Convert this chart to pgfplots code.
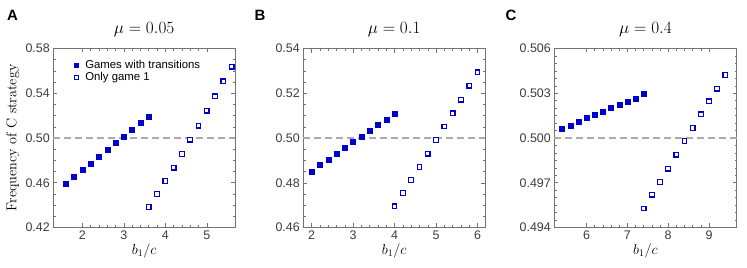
\documentclass[border=0pt]{standalone}
\usepackage{pgfplots}
\pgfplotsset{compat=1.18}
\usepackage{fontspec}
\newfontfamily\arial{Liberation Sans}
\definecolor{mblue}{RGB}{0,0,205}
\definecolor{dashgray}{RGB}{170,170,170}
\definecolor{framegray}{RGB}{115,115,115}
\definecolor{labgray}{RGB}{60,60,60}

\newcommand{\xlab}{\node[font=\fontsize{14.3}{16}\selectfont, anchor=base] at (rel axis cs:0.5,0) [yshift=-26.5bp] {$b_1/c$};}
\newcommand{\ttl}[1]{\node[font=\fontsize{17.7}{20}\selectfont, anchor=base] at (rel axis cs:0.5,1) [yshift=15.2bp] {#1};}

\pgfplotsset{
  panel/.style={
    scale only axis, height=179bp,
    anchor=south west,
    axis line style={framegray, line width=0.6bp},
    every tick/.style={framegray, line width=0.5bp},
    major tick length=4bp, minor tick length=2.2bp,
    tick align=inside,
    ticklabel style={font=\arial\fontsize{12.5}{14}\selectfont, text=labgray},
    minor x tick num=4,
    clip=false,
  },
  filled/.style={only marks, mark=square*, mark size=2.5bp, color=mblue, mark options={line width=0.3bp}},
  open/.style={only marks, mark=square*, mark size=2.3bp, color=mblue, mark options={draw=mblue, fill=white, line width=1.2bp}},
  halfline/.style={dashgray, line width=1.8bp, dash pattern=on 7bp off 4bp, forget plot},
}

\begin{document}
\begin{tikzpicture}
\useasboundingbox (0,0) rectangle (747bp,268bp);

% Panel A
\begin{axis}[panel, at={(53.3bp,40.5bp)}, width=181.7bp,
  xmin=1.30, xmax=5.68, ymin=0.42, ymax=0.58,
  xtick={2,3,4,5}, xticklabels={2,3,4,5},
  ytick={0.42,0.46,0.50,0.54,0.58}, yticklabels={0.42,0.46,0.50,0.54,0.58},
  minor y tick num=3,
  ylabel={Frequency of C strategy},
  ylabel style={font=\fontsize{14.3}{16}\selectfont, at={(axis description cs:-0.223,0.5)}, anchor=center},
  legend style={at={(axis description cs:0.108,0.952)}, anchor=north west, draw=none, fill=none,
    font=\arial\fontsize{11.4}{13}\selectfont, row sep=-1.5bp, inner sep=1bp,
    /tikz/every odd column/.append style={column sep=5bp}},
  legend image post style={mark size=2.1bp},
  legend cell align=left,
]
\addplot[halfline] coordinates {(1.30,0.5) (5.68,0.5)};
\addplot[filled] coordinates {
(1.6,0.4592) (1.8,0.4651) (2.0,0.4714) (2.2,0.4774) (2.4,0.4833) (2.6,0.4896)
(2.8,0.4958) (3.0,0.5012) (3.2,0.5072) (3.4,0.5137) (3.6,0.5194)};
\addlegendentry{Games with transitions}
\addplot[open] coordinates {
(3.6,0.4383) (3.8,0.4499) (4.0,0.4616) (4.2,0.4735) (4.4,0.4857) (4.6,0.4985)
(4.8,0.5110) (5.0,0.5244) (5.2,0.5372) (5.4,0.5507) (5.6,0.5638)};
\addlegendentry{Only game 1}
\xlab
\ttl{$\mu = 0.05$}
\end{axis}

% Panel B
\begin{axis}[panel, at={(303.3bp,40.5bp)}, width=181.7bp,
  xmin=1.80, xmax=6.18, ymin=0.46, ymax=0.54,
  xtick={2,3,4,5,6}, xticklabels={2,3,4,5,6},
  ytick={0.46,0.48,0.50,0.52,0.54}, yticklabels={0.46,0.48,0.50,0.52,0.54},
  minor y tick num=3,
]
\addplot[halfline] coordinates {(1.80,0.5) (6.18,0.5)};
\addplot[filled] coordinates {
(2.0,0.4849) (2.2,0.4879) (2.4,0.4903) (2.6,0.4928) (2.8,0.4955) (3.0,0.4984)
(3.2,0.5007) (3.4,0.5034) (3.6,0.5060) (3.8,0.5083) (4.0,0.5107)};
\addplot[open] coordinates {
(4.0,0.4695) (4.2,0.4754) (4.4,0.4812) (4.6,0.4870) (4.8,0.4930) (5.0,0.4991)
(5.2,0.5051) (5.4,0.5110) (5.6,0.5171) (5.8,0.5234) (6.0,0.5294)};
\xlab
\ttl{$\mu = 0.1$}
\end{axis}

% Panel C
\begin{axis}[panel, at={(554.3bp,40.5bp)}, width=182.4bp,
  xmin=5.21, xmax=9.68, ymin=0.494, ymax=0.506,
  xtick={6,7,8,9}, xticklabels={6,7,8,9},
  ytick={0.494,0.497,0.500,0.503,0.506}, yticklabels={0.494,0.497,0.500,0.503,0.506},
  minor y tick num=5,
]
\addplot[halfline] coordinates {(5.21,0.5) (9.68,0.5)};
\addplot[filled] coordinates {
(5.4,0.50060) (5.6,0.50085) (5.8,0.50112) (6.0,0.50134) (6.2,0.50154) (6.4,0.50179)
(6.6,0.50206) (6.8,0.50223) (7.0,0.50241) (7.2,0.50266) (7.4,0.50295)};
\addplot[open] coordinates {
(7.4,0.49528) (7.6,0.49620) (7.8,0.49705) (8.0,0.49794) (8.2,0.49888) (8.4,0.49980)
(8.6,0.50067) (8.8,0.50159) (9.0,0.50246) (9.2,0.50331) (9.4,0.50422)};
\xlab
\ttl{$\mu = 0.4$}
\end{axis}

\node[font=\arial\bfseries\fontsize{15}{18}\selectfont] at (12.5bp,253bp) {A};
\node[font=\arial\bfseries\fontsize{15}{18}\selectfont] at (260bp,253bp) {B};
\node[font=\arial\bfseries\fontsize{15}{18}\selectfont] at (511bp,253bp) {C};
\end{tikzpicture}
\end{document}
